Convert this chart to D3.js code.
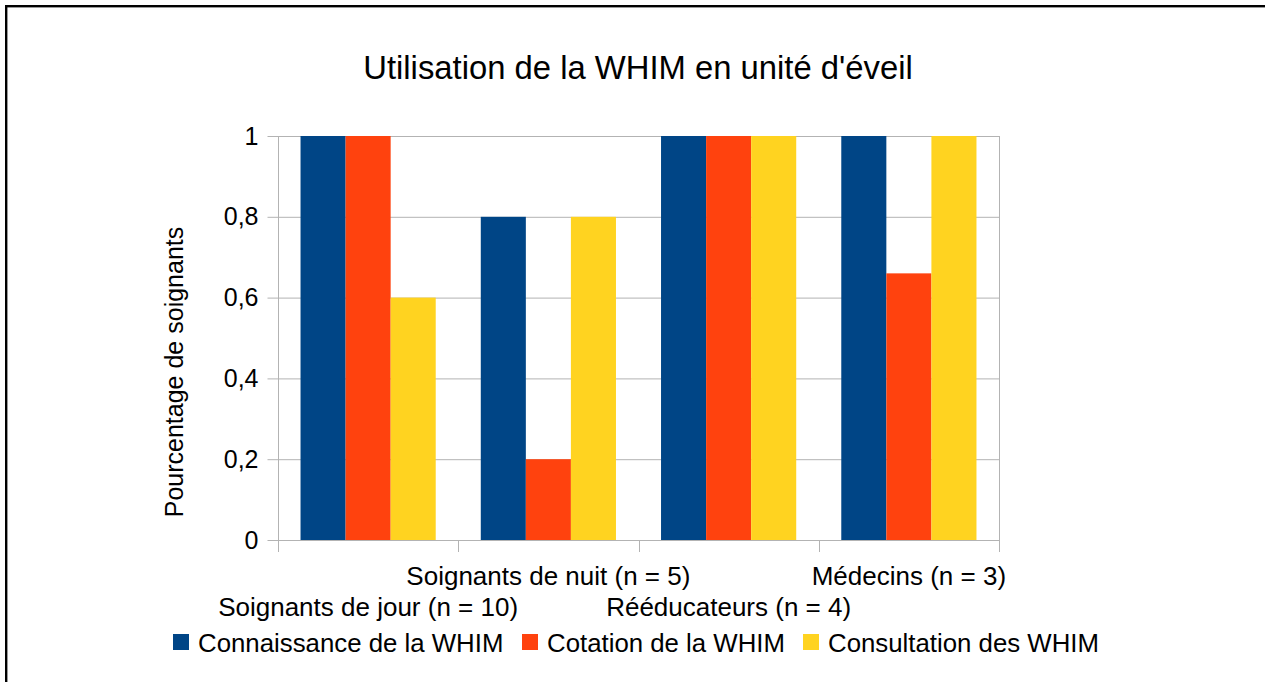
<!DOCTYPE html>
<html>
<head>
<meta charset="utf-8">
<script src="https://cdn.jsdelivr.net/npm/d3@7"></script>
<style>
  html, body { margin: 0; padding: 0; background: #fff; overflow: hidden; }
  text { font-family: "Liberation Sans", Arial, sans-serif; fill: #000; }
</style>
</head>
<body>
<div id="canvas"></div>
<script>
'use strict';

const categories = [
  'Soignants de jour (n = 10)',
  'Soignants de nuit (n = 5)',
  'Rééducateurs (n = 4)',
  'Médecins (n = 3)',
];
const seriesNames = [
  'Connaissance de la WHIM',
  'Cotation de la WHIM',
  'Consultation des WHIM',
];
const seriesColors = ['#004586', '#ff420e', '#ffd320'];
const connaissance = [1, 0.8, 1, 1];
const cotation = [1, 0.2, 1, 0.66];
const consultation = [0.6, 0.8, 1, 1];
const yTicks = [0, 0.2, 0.4, 0.6, 0.8, 1];
const title = 'Utilisation de la WHIM en unité d\'éveil';
const yTitle = 'Pourcentage de soignants';

const width = 1265;
const height = 682;
const plot = {left: 278, right: 999, top: 136, bottom: 540};

const svg = d3.select('#canvas').append('svg')
    .attr('width', width)
    .attr('height', height);

// outer frame, runs off the right and bottom edges
svg.append('rect')
    .attr('x', 6.2)
    .attr('y', 6.2)
    .attr('width', width + 20)
    .attr('height', height + 20)
    .attr('fill', 'none')
    .attr('stroke', '#000')
    .attr('stroke-width', 2.4);

svg.append('text')
    .attr('x', 638)
    .attr('y', 79)
    .attr('text-anchor', 'middle')
    .style('font-size', '32.8px')
    .text(title);

const x = d3.scaleBand()
    .domain(categories)
    .range([plot.left, plot.right]);
const x1 = d3.scaleBand()
    .domain(seriesNames)
    .range([0, x.bandwidth()])
    .paddingOuter(0.5);
const y = d3.scaleLinear()
    .domain([0, 1])
    .range([plot.bottom, plot.top]);

// horizontal grid
svg.append('g')
    .selectAll('line')
    .data(yTicks)
    .join('line')
    .attr('x1', plot.left)
    .attr('x2', plot.right)
    .attr('y1', (d) => y(d) + 0.5)
    .attr('y2', (d) => y(d) + 0.5)
    .attr('stroke', '#b3b3b3')
    .attr('stroke-width', 1);

// right edge of plot area
svg.append('line')
    .attr('x1', plot.right + 0.5)
    .attr('x2', plot.right + 0.5)
    .attr('y1', plot.top)
    .attr('y2', plot.bottom)
    .attr('stroke', '#b3b3b3');

// bars
const seriesValues = [connaissance, cotation, consultation];
const rows = [];
seriesNames.forEach((s, i) => {
  categories.forEach((c, j) => {
    rows.push({cat: c, series: s, value: seriesValues[i][j], color: seriesColors[i]});
  });
});
svg.append('g')
    .selectAll('rect')
    .data(rows)
    .join('rect')
    .attr('x', (d) => x(d.cat) + x1(d.series))
    .attr('y', (d) => y(d.value))
    .attr('width', x1.bandwidth())
    .attr('height', (d) => y(0) - y(d.value))
    .attr('fill', (d) => d.color);

// y axis
const yAxis = svg.append('g')
    .attr('transform', `translate(${plot.left + 0.5},0)`)
    .call(d3.axisLeft(y)
        .tickValues(yTicks)
        .tickSize(11)
        .tickPadding(9)
        .tickFormat((d) => d3.format('.1~f')(d).replace('.', ',')));
yAxis.select('.domain')
    .attr('stroke', '#b3b3b3')
    .attr('d', `M0,${plot.top}V${plot.bottom + 12}`);
yAxis.selectAll('.tick line').attr('stroke', '#b3b3b3');
yAxis.selectAll('.tick text')
    .style('font-size', '25px')
    .attr('font-family', null);

// x axis: ticks at band edges
const edges = categories.map((c) => x(c)).concat([x(categories[3]) + x.bandwidth()]);
svg.append('g')
    .selectAll('line')
    .data(edges)
    .join('line')
    .attr('x1', (d) => Math.round(d) + 0.5)
    .attr('x2', (d) => Math.round(d) + 0.5)
    .attr('y1', plot.bottom)
    .attr('y2', plot.bottom + 12)
    .attr('stroke', '#b3b3b3');

svg.append('g')
    .selectAll('text')
    .data(categories)
    .join('text')
    .attr('x', (d) => x(d) + x.bandwidth() / 2)
    .attr('y', (d, i) => (i % 2 === 0 ? 616 : 585))
    .attr('text-anchor', 'middle')
    .style('font-size', '26px')
    .text((d) => d);

svg.append('text')
    .attr('transform', 'translate(183,372) rotate(-90)')
    .attr('text-anchor', 'middle')
    .style('font-size', '25px')
    .text(yTitle);

// legend
const legendX = [173, 522, 803];
const legend = svg.append('g')
    .selectAll('g')
    .data(seriesNames)
    .join('g')
    .attr('transform', (d, i) => `translate(${legendX[i]},634)`);
legend.append('rect')
    .attr('width', 16)
    .attr('height', 16)
    .attr('fill', (d, i) => seriesColors[i]);
legend.append('text')
    .attr('x', 25)
    .attr('y', 18)
    .style('font-size', '25.8px')
    .text((d) => d);
</script>
</body>
</html>
